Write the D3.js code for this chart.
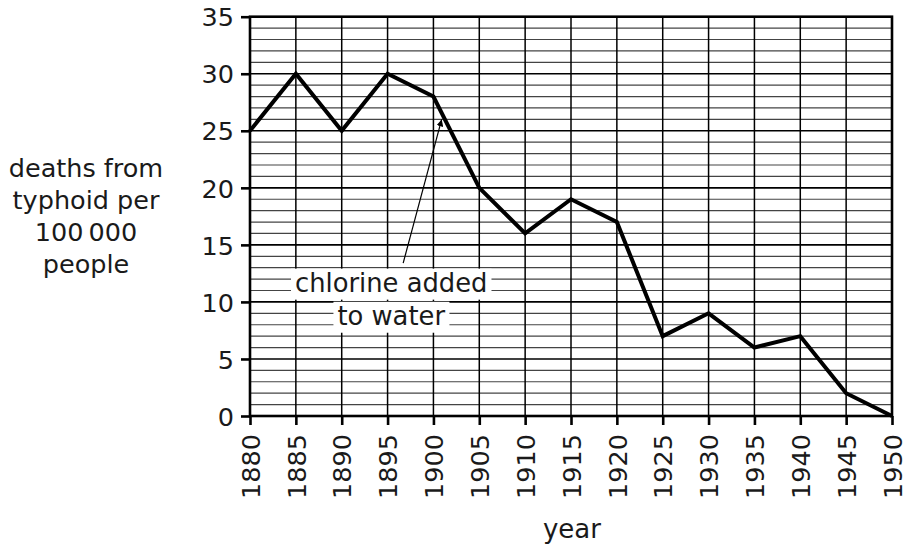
<!DOCTYPE html>
<html>
<head>
<meta charset="utf-8">
<script src="https://cdn.jsdelivr.net/npm/d3@7"></script>
<style>
  body { margin: 0; background: white; }
  text { font-family: "DejaVu Sans", sans-serif; fill: #1a1a1a; }
</style>
</head>
<body>
<div id="plot"></div>
<script>
// typhoid deaths per 100 000 people, 1880-1950
const years = [1880, 1885, 1890, 1895, 1900, 1905, 1910, 1915, 1920, 1925, 1930, 1935, 1940, 1945, 1950];
const deaths = [25, 30, 25, 30, 28, 20, 16, 19, 17, 7, 9, 6, 7, 2, 0];
const yTicks = [0, 5, 10, 15, 20, 25, 30, 35];
const yTitle = ["deaths from", "typhoid per", "100\u2009000", "people"];
const xTitle = "year";
const noteLines = ["chlorine added", "to water"];

const w = 909;
const h = 552;

const svg = d3.select("div#plot")
  .append("svg")
  .attr("width", w)
  .attr("height", h);

svg.append("rect")
  .attr("width", w)
  .attr("height", h)
  .attr("fill", "white");

const x = d3.scaleLinear().domain([1880, 1950]).range([250, 892]);
const y = d3.scaleLinear().domain([0, 35]).range([416, 16.7]);

// minor horizontal grid, every 1 unit
svg.append("g")
  .selectAll("line")
  .data(d3.range(1, 35))
  .enter().append("line")
  .attr("x1", x(1880)).attr("x2", x(1950))
  .attr("y1", d => y(d)).attr("y2", d => y(d))
  .attr("stroke", d => d % 5 === 0 ? "#000" : "#444")
  .attr("stroke-width", d => d % 5 === 0 ? 1.6 : 1.2);

// vertical grid every 5 years
svg.append("g")
  .selectAll("line")
  .data(years.slice(1, -1))
  .enter().append("line")
  .attr("x1", d => x(d)).attr("x2", d => x(d))
  .attr("y1", y(0)).attr("y2", y(35))
  .attr("stroke", "#000")
  .attr("stroke-width", 1.5);

// frame
svg.append("rect")
  .attr("x", x(1880)).attr("y", y(35))
  .attr("width", x(1950) - x(1880))
  .attr("height", y(0) - y(35))
  .attr("fill", "none")
  .attr("stroke", "#000")
  .attr("stroke-width", 2.6);

// axes
const yAxis = svg.append("g")
  .attr("transform", `translate(${x(1880)},0)`)
  .call(d3.axisLeft(y).tickValues(yTicks).tickSize(9).tickPadding(7));

const xAxis = svg.append("g")
  .attr("transform", `translate(0,${y(0)})`)
  .call(d3.axisBottom(x).tickValues(years).tickSize(9).tickFormat(d3.format("d")));

[yAxis, xAxis].forEach(g => {
  g.select(".domain").remove();
  g.selectAll(".tick line").attr("stroke", "#000").attr("stroke-width", 2.6);
  g.selectAll("text")
    .style("font-family", "'DejaVu Sans', sans-serif")
    .style("font-size", "25.5px")
    .attr("fill", "#1a1a1a");
});

yAxis.selectAll(".tick text").attr("dy", "0.36em");

xAxis.selectAll(".tick text")
  .attr("transform", "rotate(-90)")
  .attr("text-anchor", "end")
  .attr("x", -18)
  .attr("y", 0)
  .attr("dy", "0.36em");

// white backing for the note, drawn over the grid
const noteX = x(1895.4);
const noteYs = [y(10.9), y(8.0)];
const noteG = svg.append("g");
noteLines.forEach((t, i) => {
  const txt = noteG.append("text")
    .attr("x", noteX)
    .attr("y", noteYs[i])
    .attr("text-anchor", "middle")
    .style("font-size", "25.8px")
    .text(t);
  const b = txt.node().getBBox();
  noteG.insert("rect", "text")
    .attr("x", b.x - 4)
    .attr("y", b.y + 1)
    .attr("width", b.width + 8)
    .attr("height", b.height + 1)
    .attr("fill", "white");
});

// arrow to the 1900 point
svg.append("defs").append("marker")
  .attr("id", "head")
  .attr("viewBox", "0 0 10 10")
  .attr("refX", 10).attr("refY", 5)
  .attr("markerWidth", 7).attr("markerHeight", 7)
  .attr("markerUnits", "userSpaceOnUse")
  .attr("orient", "auto")
  .append("path")
  .attr("d", "M0,0 L10,5 L0,10 z")
  .attr("fill", "#000");

svg.append("line")
  .attr("x1", x(1896.7)).attr("y1", y(13.4))
  .attr("x2", x(1900.9)).attr("y2", y(26.0))
  .attr("stroke", "#000")
  .attr("stroke-width", 1.2)
  .attr("marker-end", "url(#head)");

// data line
const line = d3.line()
  .x((d, i) => x(years[i]))
  .y(d => y(d));

svg.append("path")
  .datum(deaths)
  .attr("d", line)
  .attr("fill", "none")
  .attr("stroke", "#000")
  .attr("stroke-width", 4)
  .attr("stroke-linejoin", "miter");

// titles
svg.append("text")
  .attr("x", 572)
  .attr("y", 538)
  .attr("text-anchor", "middle")
  .style("font-size", "26px")
  .text(xTitle);

svg.append("g")
  .selectAll("text")
  .data(yTitle)
  .enter().append("text")
  .attr("x", 86)
  .attr("y", (d, i) => 177 + i * 32)
  .attr("text-anchor", "middle")
  .style("font-size", "25.5px")
  .text(d => d);
</script>
</body>
</html>
